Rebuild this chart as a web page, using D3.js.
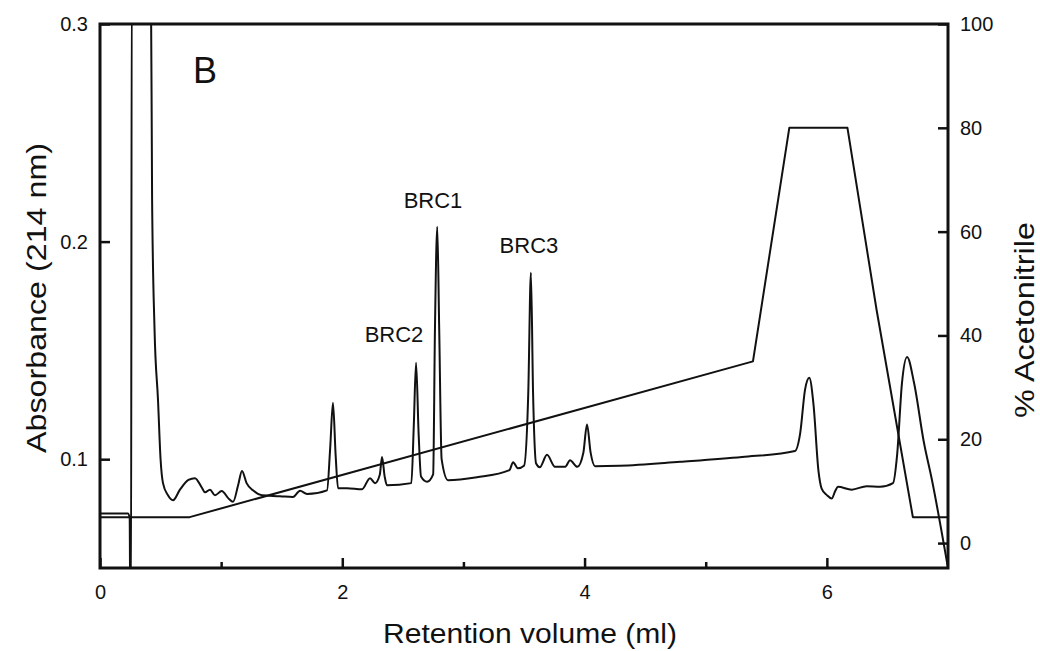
<!DOCTYPE html>
<html>
<head>
<meta charset="utf-8">
<script src="https://cdn.jsdelivr.net/npm/d3@7"></script>
<style>
  body { margin: 0; background: #fff; }
  svg { font-family: "Liberation Sans", Arial, Helvetica, sans-serif; }
  .tick text { font-size: 20px; fill: #111; }
  .tick line { stroke: #111; stroke-width: 2.5px; }
  .trace { fill: none; stroke: #111; stroke-width: 2px; stroke-linejoin: round; }
  .title { font-size: 27px; fill: #111; }
</style>
</head>
<body>
<svg id="chart" width="1040" height="651"></svg>
<script>
// absorbance trace at 214 nm: [retention volume (ml), absorbance]
let absorbance = [
    [0, 0.075], [0.23, 0.075], [0.245, 0.073], [0.25, 0.03], [0.256, 0.03], [0.262, 0.32],
    [0.42, 0.32], [0.43, 0.22], [0.45, 0.16], [0.479, 0.127], [0.50, 0.10], [0.52, 0.089],
    [0.56, 0.0835], [0.603, 0.0811], [0.66, 0.086], [0.73, 0.0905], [0.784, 0.0913],
    [0.84, 0.087], [0.867, 0.0848], [0.908, 0.086], [0.949, 0.0834], [1.005, 0.0854],
    [1.06, 0.082], [1.098, 0.0804], [1.14, 0.088], [1.172, 0.0946], [1.21, 0.089],
    [1.263, 0.0857], [1.337, 0.0834], [1.486, 0.083], [1.593, 0.0826], [1.651, 0.0855],
    [1.709, 0.084], [1.874, 0.0857], [1.90, 0.105], [1.923, 0.1259], [1.945, 0.102],
    [1.965, 0.0867], [2.039, 0.0867], [2.163, 0.0862], [2.229, 0.0913], [2.27, 0.089],
    [2.31, 0.093], [2.328, 0.101], [2.35, 0.092], [2.369, 0.088], [2.57, 0.089],
    [2.59, 0.115], [2.609, 0.1443], [2.63, 0.112], [2.65, 0.092], [2.70, 0.0896],
    [2.75, 0.093], [2.765, 0.16], [2.784, 0.2068], [2.80, 0.16], [2.82, 0.10],
    [2.873, 0.0903], [3.112, 0.0917], [3.38, 0.095], [3.41, 0.0986], [3.45, 0.0958],
    [3.50, 0.097], [3.535, 0.13], [3.557, 0.1857], [3.575, 0.13], [3.60, 0.098],
    [3.63, 0.0963], [3.69, 0.102], [3.756, 0.0965], [3.84, 0.0965], [3.88, 0.0995],
    [3.94, 0.0965], [3.99, 0.103], [4.02, 0.116], [4.05, 0.103], [4.086, 0.0968],
    [4.29, 0.097], [4.788, 0.0988], [5.30, 0.101], [5.737, 0.1038], [5.78, 0.112],
    [5.82, 0.132], [5.855, 0.1374], [5.89, 0.125], [5.93, 0.095], [5.957, 0.0865],
    [6.00, 0.0835], [6.04, 0.0819], [6.07, 0.0855], [6.092, 0.0873], [6.205, 0.086],
    [6.329, 0.0876], [6.439, 0.0873], [6.546, 0.089], [6.58, 0.102], [6.62, 0.135],
    [6.662, 0.147], [6.72, 0.135], [6.80, 0.108], [6.868, 0.0903], [7.0, 0.05]
];

// acetonitrile gradient: [retention volume (ml), % acetonitrile]
let gradient = [
    [0, 5], [0.74, 5], [5.39, 35], [5.69, 80], [6.17, 80], [6.41, 45], [6.71, 5], [7.0, 5]
];

let xMajorTicks = [0, 2, 4, 6];
let xMinorTicks = [1, 3, 5];
let leftTicks = [0.1, 0.2, 0.3];
let rightTicks = [0, 20, 40, 60, 80, 100];

// peak annotations: label text and where it sits (ml, absorbance)
let peakLabels = ["BRC1", "BRC2", "BRC3"];
let peakLabelX = [2.749, 2.427, 3.541];
let peakLabelY = [0.2154, 0.1539, 0.1948];

drawChart();

function drawChart(){
    let margin = {top: 24, right: 92, bottom: 83, left: 100};
    let width = 1040 - margin.left - margin.right;
    let height = 651 - margin.top - margin.bottom;

    let svg = d3.select("#chart")
                .append("g")
                .attr("transform", "translate(" + margin.left + "," + margin.top + ")");

    let xScale = d3.scaleLinear().domain([0, 7]).range([0, width]);
    let yScale = d3.scaleLinear().domain([0.05, 0.3]).range([height, 0]);
    let y2Scale = d3.scaleLinear().domain([-4.8, 100]).range([height, 0]);

    svg.append("clipPath")
        .attr("id", "plot-clip")
        .append("rect")
        .attr("width", width)
        .attr("height", height);

    // axes, ticks pointing inward
    svg.append("g")
        .attr("transform", "translate(0," + height + ")")
        .call(d3.axisBottom(xScale).tickValues(xMajorTicks).tickSize(-10).tickPadding(17).tickFormat(d3.format("d")))
        .call(g => g.select(".domain").remove());
    svg.append("g")
        .attr("transform", "translate(0," + height + ")")
        .call(d3.axisBottom(xScale).tickValues(xMinorTicks).tickSize(-6).tickFormat(""))
        .call(g => g.select(".domain").remove());
    svg.append("g")
        .call(d3.axisLeft(yScale).tickValues(leftTicks).tickSize(-10).tickPadding(12).tickFormat(d3.format(".1f")))
        .call(g => g.select(".domain").remove());
    svg.append("g")
        .attr("transform", "translate(" + width + ",0)")
        .call(d3.axisRight(y2Scale).tickValues(rightTicks).tickSize(-10).tickPadding(12).tickFormat(d3.format("d")))
        .call(g => g.select(".domain").remove());

    let absLine = d3.line()
            .x(function(d){ return xScale(d[0]); })
            .y(function(d){ return yScale(d[1]); })
            .curve(d3.curveMonotoneX);
    let gradLine = d3.line()
            .x(function(d){ return xScale(d[0]); })
            .y(function(d){ return y2Scale(d[1]); });

    svg.append("path")
        .datum(gradient)
        .attr("class", "trace")
        .attr("clip-path", "url(#plot-clip)")
        .attr("d", gradLine);

    svg.append("path")
        .datum(absorbance)
        .attr("class", "trace")
        .attr("clip-path", "url(#plot-clip)")
        .attr("d", absLine);

    // frame
    svg.append("rect")
        .attr("width", width)
        .attr("height", height)
        .attr("fill", "none")
        .attr("stroke", "#111")
        .attr("stroke-width", 3);

    for (let i = 0; i < peakLabels.length; i++){
        svg.append("text")
            .attr("x", xScale(peakLabelX[i]))
            .attr("y", yScale(peakLabelY[i]))
            .attr("text-anchor", "middle")
            .attr("font-size", 22)
            .attr("fill", "#111")
            .text(peakLabels[i]);
    }

    svg.append("text")
        .attr("x", 93)
        .attr("y", 59)
        .attr("font-size", 36)
        .attr("fill", "#111")
        .text("B");

    svg.append("text")
        .attr("class", "title")
        .attr("x", 430 - 147)
        .attr("y", height + 75)
        .attr("textLength", 294)
        .attr("lengthAdjust", "spacingAndGlyphs")
        .text("Retention volume (ml)");

    svg.append("text")
        .attr("class", "title")
        .attr("transform", "translate(-54," + (height / 2 + 2) + ") rotate(-90)")
        .attr("x", -155)
        .attr("textLength", 310)
        .attr("lengthAdjust", "spacingAndGlyphs")
        .text("Absorbance (214 nm)");

    svg.append("text")
        .attr("class", "title")
        .attr("transform", "translate(" + (width + 86) + "," + (height / 2 + 24) + ") rotate(-90)")
        .attr("x", -98)
        .attr("textLength", 196)
        .attr("lengthAdjust", "spacingAndGlyphs")
        .text("% Acetonitrile");
}
</script>
</body>
</html>
